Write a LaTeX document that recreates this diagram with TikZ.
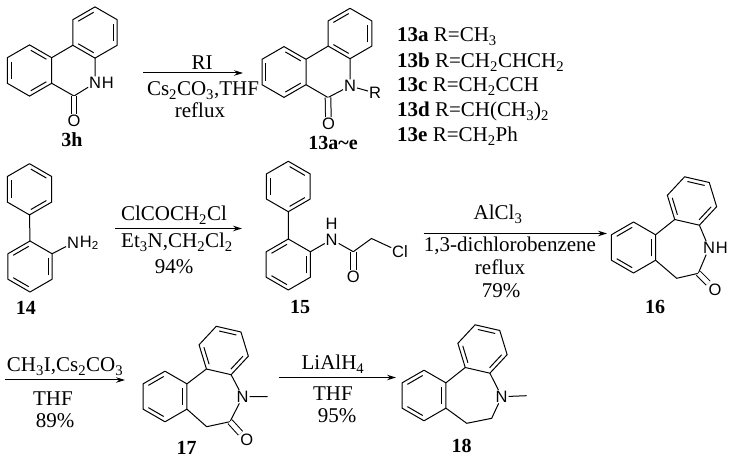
\documentclass[tikz,border=0pt]{standalone}
\usepackage{fontspec}
\setmainfont{Liberation Serif}
\setsansfont{Liberation Sans}
\usetikzlibrary{positioning}
\usetikzlibrary{arrows.meta}
\newcommand{\sbs}[1]{\textsubscript{#1}}
% name, centre x, centre y, radius, first corner angle, sides with an inner line
\newcommand{\benzring}[6]{
    \foreach \i in {0,...,5}
        \coordinate (#1-\i) at ({#2+#4*cos(#5+60*\i)},{#3-#4*sin(#5+60*\i)});
    \draw[bond] (#1-0) -- (#1-1) -- (#1-2) -- (#1-3) -- (#1-4) -- (#1-5) -- cycle;
    \foreach \e in {#6}
        \draw[bond,shorten >=1.5pt,shorten <=1.5pt]
            ({#2+.82*#4*cos(#5+60*\e)},{#3-.82*#4*sin(#5+60*\e)}) --
            ({#2+.82*#4*cos(#5+60*\e+60)},{#3-.82*#4*sin(#5+60*\e+60)});
}
\begin{document}
\begin{tikzpicture}[x=1pt,y=-1pt,
            bond/.style = {line width=1pt,line join=round},
            dbond/.style = {line width=1pt,double,double distance=4.6pt},
            rxn/.style = {line width=1pt,-{Stealth[length=9pt,width=5.5pt]}},
            atom/.style = {font=\sffamily\fontsize{16.5}{18}\selectfont,inner sep=.8pt},
            txt/.style = {font=\fontsize{21}{24}\selectfont,anchor=base,inner sep=0pt},
            lst/.style = {txt,anchor=base west},
            cmpd/.style = {font=\bfseries\fontsize{20}{22}\selectfont,inner sep=0pt}]
    \useasboundingbox (0,0) rectangle (734,462);
    % 3h
    \benzring{a1}{29.5}{70.5}{25.6}{90}{5,1,3}
    \benzring{a2}{95}{32.5}{25.6}{90}{0,4,2}
    \node[atom] (a3) at (95,83) {N};
    \node[atom,right=-1pt of a3] (a4) {H};
    \coordinate (a5) at (74,96);
    \node[atom] (a6) at (74,121) {O};
    \draw[bond] (a1-5) -- (a2-2) (a2-3) -- (a3) (a3) -- (a5) -- (a1-4);
    \draw[dbond] (a5) -- (a6);
    \node[cmpd] (a7) at (72,140) {3h};
    % first arrow
    \coordinate (r1s) at (143,73);
    \coordinate (r1e) at (243,73);
    \draw[rxn] (r1s) -- (r1e);
    \node[txt] (r1a) at (202,70) {RI};
    \node[txt] (r1b) at (203,96) {Cs\sbs{2}CO\sbs{3},THF};
    \node[txt] (r1c) at (200,118) {reflux};
    % 13a~e
    \benzring{b1}{284}{72}{25.4}{90}{5,1,3}
    \benzring{b2}{350}{33.5}{25.2}{90}{0,4,2}
    \node[atom] (b3) at (350,86) {N};
    \node[atom] (b4) at (375,93) {R};
    \coordinate (b5) at (328,97.5);
    \node[atom] (b6) at (328.5,124) {O};
    \draw[bond] (b1-5) -- (b2-2) (b2-3) -- (b3) (b3) -- (b5) -- (b1-4) (b3) -- (b4);
    \draw[dbond] (b5) -- (b6);
    \node[cmpd] (b7) at (333,143) {13a\textasciitilde e};
    % the R list
    \node[lst] (l1) at (397,42) {\textbf{13a} R=CH\sbs{3}};
    \node[lst] (l2) at (397,68) {\textbf{13b} R=CH\sbs{2}CHCH\sbs{2}};
    \node[lst] (l3) at (397,92) {\textbf{13c} R=CH\sbs{2}CCH};
    \node[lst] (l4) at (397,117) {\textbf{13d} R=CH(CH\sbs{3})\sbs{2}};
    \node[lst] (l5) at (397,142) {\textbf{13e} R=CH\sbs{2}Ph};
    % 14
    \benzring{c1}{29.5}{189.3}{25.6}{90}{1,3,5}
    \benzring{c2}{30}{266.5}{25.5}{90}{0,2,4}
    \node[atom] (c3) at (73,243) {N};
    \node[atom,right=-1pt of c3] (c4) {H\sbs{2}};
    \draw[bond] (c1-3) -- (c2-0) (c2-5) -- (c3);
    \node[cmpd] (c5) at (26,308) {14};
    % second arrow
    \coordinate (r2s) at (115,228.5);
    \coordinate (r2e) at (242,228.5);
    \draw[rxn] (r2s) -- (r2e);
    \node[txt] (r2a) at (174,221) {ClCOCH\sbs{2}Cl};
    \node[txt] (r2b) at (177,248) {Et\sbs{3}N,CH\sbs{2}Cl\sbs{2}};
    \node[txt] (r2c) at (174,274) {94\%};
    % 15
    \benzring{d1}{288.3}{186.5}{25.2}{90}{1,3,5}
    \benzring{d2}{288.3}{264.5}{25.5}{90}{0,2,4}
    \node[atom] (d3) at (331.7,239.5) {N};
    \node[atom,above=2pt of d3] (d4) {H};
    \coordinate (d5) at (353.3,251.7);
    \node[atom] (d6) at (353.3,277) {O};
    \coordinate (d7) at (371.5,238.5);
    \node[atom] (d8) at (400,251.7) {Cl};
    \draw[bond] (d1-3) -- (d2-0) (d2-5) -- (d3) (d3) -- (d5) -- (d7) -- (d8);
    \draw[dbond] (d5) -- (d6);
    \node[cmpd] (d9) at (300,307) {15};
    % third arrow
    \coordinate (r3s) at (423.5,233.5);
    \coordinate (r3e) at (607,233.5);
    \draw[rxn] (r3s) -- (r3e);
    \node[txt] (r3a) at (498,220) {AlCl\sbs{3}};
    \node[txt] (r3b) at (510,252) {1,3-dichlorobenzene};
    \node[txt] (r3c) at (500,275) {reflux};
    \node[txt] (r3d) at (501,298) {79\%};
    % 16
    \benzring{e1}{633.5}{247.5}{25.5}{90}{0,2,4}
    \benzring{e2}{692}{201}{25.3}{107}{1,3,5}
    \node[atom] (e3) at (709,248) {N};
    \node[atom,right=-1pt of e3] (e4) {H};
    \coordinate (e5) at (698.3,273.3);
    \coordinate (e6) at (676.7,278.3);
    \node[atom] (e7) at (715,290) {O};
    \draw[bond] (e1-5) -- (e2-2) (e2-3) -- (e3) (e3) -- (e5) -- (e6) -- (e1-4);
    \draw[dbond] (e5) -- (e7);
    \node[cmpd] (e8) at (655,307) {16};
    % fourth arrow
    \coordinate (r4s) at (5,380);
    \coordinate (r4e) at (125,380);
    \draw[rxn] (r4s) -- (r4e);
    \node[txt] (r4a) at (65,372) {CH\sbs{3}I,Cs\sbs{2}CO\sbs{3}};
    \node[txt] (r4b) at (53,406) {THF};
    \node[txt] (r4c) at (55,428) {89\%};
    % 17
    \benzring{f1}{165}{396.5}{25.3}{90}{0,2,4}
    \benzring{f2}{223.7}{350.5}{25.3}{107}{1,3,5}
    \node[atom] (f3) at (242.7,396.7) {N};
    \coordinate (f4) at (267.7,396.7);
    \coordinate (f5) at (230,421.7);
    \coordinate (f6) at (206.7,426.7);
    \node[atom] (f7) at (246.7,440) {O};
    \draw[bond] (f1-5) -- (f2-2) (f2-3) -- (f3) (f3) -- (f4) (f3) -- (f5) -- (f6) -- (f1-4);
    \draw[dbond] (f5) -- (f7);
    \node[cmpd] (f8) at (186.7,448) {17};
    % fifth arrow
    \coordinate (r5s) at (278.5,377.5);
    \coordinate (r5e) at (396,377.5);
    \draw[rxn] (r5s) -- (r5e);
    \node[txt] (r5a) at (333,370) {LiAlH\sbs{4}};
    \node[txt] (r5b) at (333,400) {THF};
    \node[txt] (r5c) at (337,422) {95\%};
    % 18
    \benzring{g1}{424}{395.5}{25.3}{90}{0,2,4}
    \benzring{g2}{482.5}{349}{25.3}{107}{1,3,5}
    \node[atom] (g3) at (501.7,396.7) {N};
    \coordinate (g4) at (526.7,395.7);
    \coordinate (g5) at (491.7,418.3);
    \coordinate (g6) at (466.7,423.3);
    \draw[bond] (g1-5) -- (g2-2) (g2-3) -- (g3) (g3) -- (g4) (g3) -- (g5) -- (g6) -- (g1-4);
    \node[cmpd] (g7) at (461.7,445.7) {18};
\end{tikzpicture}
\end{document}
